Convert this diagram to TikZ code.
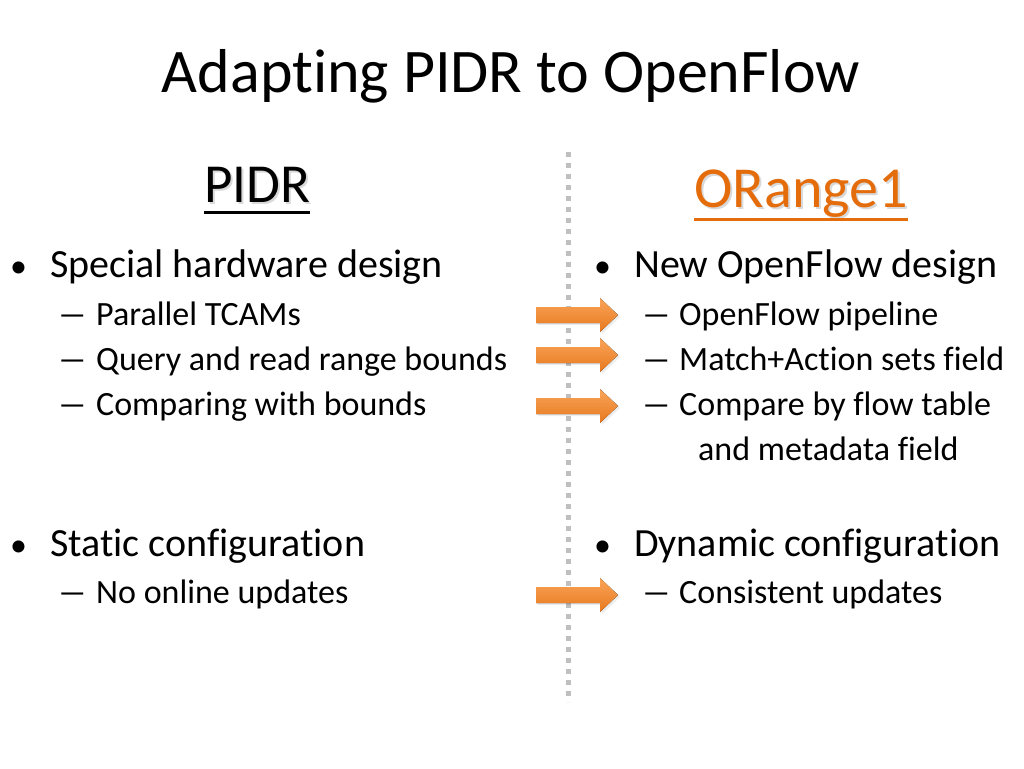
\documentclass[tikz,border=0pt]{standalone}
\usepackage{fontspec}
\usepackage{graphicx}
\setmainfont{Carlito}[Ligatures={NoCommon}]
\definecolor{orangeA}{HTML}{E46C0A}
\definecolor{arrowTop}{HTML}{F9A55A}
\definecolor{arrowBot}{HTML}{E8781E}
\definecolor{dotgray}{HTML}{BFBFBF}
\newcommand{\longdash}{\scalebox{1.8}[1]{–}}
\begin{document}
\begin{tikzpicture}[x=1pt,y=-1pt,
  title/.style={font=\fontsize{62}{70}\selectfont, anchor=base, inner sep=0},
  head/.style={font=\fontsize{55}{60}\selectfont, anchor=base, inner sep=0},
  lvlone/.style={font=\fontsize{40}{46}\selectfont, anchor=base west, inner sep=0},
  bulletmark/.style={font=\fontsize{34}{40}\selectfont, anchor=base west, inner sep=0},
  lvltwo/.style={font=\fontsize{34}{40}\selectfont, anchor=base west, inner sep=0},
  blockarrow/.style={top color=arrowTop, bottom color=arrowBot, draw=none},
  divider/.style={draw=dotgray, line width=5, dash pattern=on 5 off 6}
]
\useasboundingbox (0,0) rectangle (1024,768);
\fill[white] (0,0) rectangle (1024,768);

% title
\node[title] (title) at (511,92) {Adapting PIDR to OpenFlow};

% divider
\coordinate (dtop) at (568,152);
\coordinate (dbot) at (568,702);
\draw[divider] (dtop) -- (dbot);

% headings
\node[head, text=black!15] at (259,204) {PIDR};
\node[head] (pidr) at (257,202) {PIDR};
\draw[line width=3] ([yshift=-10]pidr.base west) -- ([yshift=-10]pidr.base east);
\node[head, font=\fontsize{58}{62}\selectfont, text=black!15] at (803,209) {ORange1};
\node[head, font=\fontsize{58}{62}\selectfont, text=orangeA] (orange) at (801,207) {ORange1};
\draw[orangeA, line width=3] ([yshift=-12]orange.base west) -- ([yshift=-12]orange.base east);

% left column
\node[bulletmark] (b1) at (10,277) {•};
\node[lvlone] (l1) at (50,277) {Special hardware design};
\node[lvltwo] (d1) at (57,325) {\longdash};
\node[lvltwo] (l1a) at (96,325) {Parallel TCAMs};
\node[lvltwo] (d2) at (57,370) {\longdash};
\node[lvltwo] (l1b) at (96,370) {Query and read range bounds};
\node[lvltwo] (d3) at (57,415) {\longdash};
\node[lvltwo] (l1c) at (96,415) {Comparing with bounds};
\node[bulletmark] (b2) at (10,556) {•};
\node[lvlone] (l2) at (50,556) {Static configuration};
\node[lvltwo] (d4) at (57,603) {\longdash};
\node[lvltwo] (l2a) at (96,603) {No online updates};

% right column
\node[bulletmark] (b3) at (594,277) {•};
\node[lvlone] (r1) at (634,277) {New OpenFlow design};
\node[lvltwo] (d5) at (641,325) {\longdash};
\node[lvltwo] (r1a) at (679,325) {OpenFlow pipeline};
\node[lvltwo] (d6) at (641,370) {\longdash};
\node[lvltwo] (r1b) at (679,370) {Match+Action sets field};
\node[lvltwo] (d7) at (641,415) {\longdash};
\node[lvltwo] (r1c) at (679,415) {Compare by flow table};
\node[lvltwo] (r1d) at (698,460) {and metadata field};
\node[bulletmark] (b4) at (594,556) {•};
\node[lvlone] (r2) at (634,556) {Dynamic configuration};
\node[lvltwo] (d8) at (641,603) {\longdash};
\node[lvltwo] (r2a) at (679,603) {Consistent updates};

% arrows
\foreach \y in {315,355,406,595}{
  \fill[black, opacity=0.07] (538,\y-6) -- (602,\y-6) -- (602,\y-15) -- (620,\y+2) -- (602,\y+19) -- (602,\y+10) -- (538,\y+10) -- cycle;
  \fill[blockarrow] (536,\y-8) -- (600,\y-8) -- (600,\y-17) -- (618,\y) -- (600,\y+17) -- (600,\y+8) -- (536,\y+8) -- cycle;
}
\end{tikzpicture}
\end{document}
